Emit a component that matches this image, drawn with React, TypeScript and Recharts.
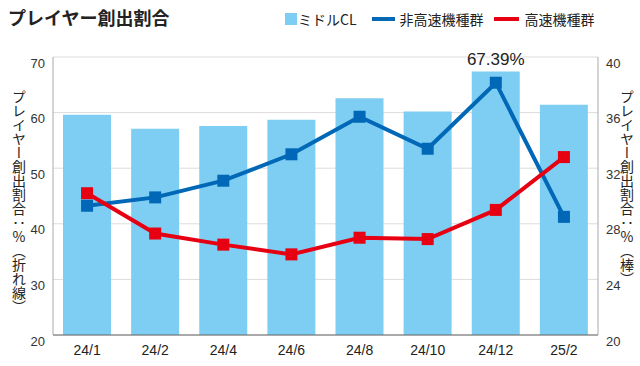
import React from 'react';
import {
  ComposedChart,
  Bar,
  Line,
  XAxis,
  YAxis,
  CartesianGrid,
  LabelList,
} from 'recharts';

// --- Data ---
const months = ['24/1', '24/2', '24/4', '24/6', '24/8', '24/10', '24/12', '25/2'];
const middleCL = [59.6, 57.1, 57.6, 58.7, 62.6, 60.2, 67.39, 61.4];
const nonFast = [29.3, 29.9, 31.1, 33.0, 35.7, 33.4, 38.15, 28.5];
const fast = [30.2, 27.3, 26.5, 25.8, 27.0, 26.9, 29.0, 32.8];
const leftTicks = [20, 30, 40, 50, 60, 70];
const rightTicks = [20, 24, 28, 32, 36, 40];

const data = months.map((m, i) => ({
  name: m,
  middle: middleCL[i],
  nonFast: nonFast[i],
  fast: fast[i],
}));

// --- Colors ---
const BAR_COLOR = '#7ecef4';
const BLUE = '#0068b7';
const RED = '#e60012';
const FONT = "'Liberation Sans', Arial, 'Noto Sans CJK JP', sans-serif";
const JP_FONT = "'Noto Sans CJK JP', sans-serif";

const squareDot = (color: string) => (props: any) => {
  const { cx, cy, index } = props;
  if (cx == null || cy == null) return <g key={`d-${index}`} />;
  return <rect key={`d-${index}`} x={cx - 6} y={cy - 6} width={12} height={12} fill={color} />;
};

const TopLabel = (props: any) => {
  const { x, y, width, index } = props;
  if (index !== 6) return null;
  return (
    <text x={x + width / 2} y={y - 7} textAnchor="middle" fontSize={17} fill="#222" fontFamily={FONT}>
      67.39%
    </text>
  );
};

function LegendBox() {
  return (
    <div style={{ position: 'absolute', left: 285, top: 8, height: 22, display: 'flex', alignItems: 'center', fontFamily: JP_FONT, fontSize: 14, color: '#222' }}>
      <span style={{ width: 12, height: 12, background: BAR_COLOR, marginRight: 1, display: 'inline-block' }} />
      <span style={{ marginRight: 15 }}>ミドルCL</span>
      <span style={{ width: 23, height: 4, background: BLUE, marginRight: 5, display: 'inline-block' }} />
      <span style={{ marginRight: 10 }}>非高速機種群</span>
      <span style={{ width: 25, height: 4, background: RED, marginRight: 6, display: 'inline-block' }} />
      <span>高速機種群</span>
    </div>
  );
}

const vLabel = {
  position: 'absolute',
  top: 90,
  writingMode: 'vertical-rl',
  textOrientation: 'upright',
  fontFamily: JP_FONT,
  fontSize: 14,
  lineHeight: '16px',
  color: '#222',
} as const;

export default function App() {
  return (
    <div style={{ position: 'absolute', left: 0, top: 0, width: 640, height: 366, background: '#fff', overflow: 'hidden' }}>
      <div style={{ position: 'absolute', left: 8, top: 4, fontFamily: JP_FONT, fontWeight: 700, fontSize: 18, color: '#222' }}>
        プレイヤー創出割合
      </div>
      <LegendBox />
      <div style={{ ...vLabel, left: 11 }}>プレイヤー創出割合：%（折れ線）</div>
      <div style={{ ...vLabel, left: 619 }}>プレイヤー創出割合：%（棒）</div>
      <ComposedChart
        width={640}
        height={366}
        data={data}
        margin={{ top: 57, right: 0, left: 0, bottom: 0 }}
        barCategoryGap="14%"
      >
        <CartesianGrid yAxisId="left" vertical={false} stroke="#dcdcdc" />
        <XAxis
          dataKey="name"
          height={31}
          tick={{ fontSize: 14, fill: '#222', fontFamily: FONT }}
          tickLine={false}
          axisLine={{ stroke: '#666' }}
          dy={2}
        />
        <YAxis
          yAxisId="left"
          orientation="left"
          width={53}
          domain={[20, 70]}
          ticks={leftTicks}
          tick={{ fontSize: 13, fill: '#333', fontFamily: FONT, dy: 6 }}
          tickLine={false}
          axisLine={{ stroke: '#aaa' }}
        />
        <YAxis
          yAxisId="right"
          orientation="right"
          width={42}
          domain={[20, 40]}
          ticks={rightTicks}
          tick={{ fontSize: 13, fill: '#333', fontFamily: FONT, dy: 6 }}
          tickLine={false}
          axisLine={{ stroke: '#aaa' }}
        />
        <Bar yAxisId="left" dataKey="middle" fill={BAR_COLOR} barSize={48} isAnimationActive={false}>
          <LabelList dataKey="middle" content={<TopLabel />} />
        </Bar>
        <Line
          yAxisId="right"
          type="linear"
          dataKey="nonFast"
          stroke={BLUE}
          strokeWidth={4}
          dot={squareDot(BLUE)}
          activeDot={false}
          isAnimationActive={false}
        />
        <Line
          yAxisId="right"
          type="linear"
          dataKey="fast"
          stroke={RED}
          strokeWidth={4}
          dot={squareDot(RED)}
          activeDot={false}
          isAnimationActive={false}
        />
      </ComposedChart>
    </div>
  );
}
